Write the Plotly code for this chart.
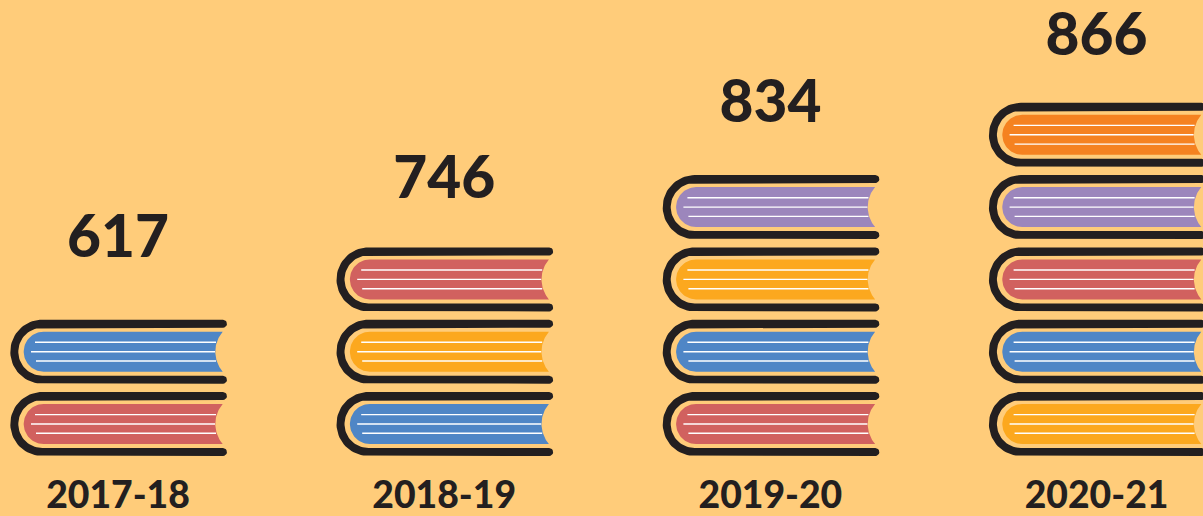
import numpy as np
import plotly.graph_objects as go

years = ["2017-18", "2018-19", "2019-20", "2020-21"]
books_read = [617, 746, 834, 866]
book_stacks = [
    ["red", "blue"],
    ["blue", "yellow", "red"],
    ["red", "blue", "yellow", "purple"],
    ["yellow", "blue", "red", "purple", "orange"],
]

PALETTE = {"red": "#D1615F", "blue": "#4F86C6", "yellow": "#FCA81E",
           "purple": "#9C86BC", "orange": "#F58220"}
BG = "#FFCC7A"
INK = "#231F20"
W, H = 1203, 516
CENTER0, STEP = 118.0, 326.2   # pixel centre of first category, pixels per category
BASE, PITCH = 456.0, 72.3      # pixel baseline of stacks, pixels per book
LABEL_GAP = [77.4, 64.1, 67.8, 62.5]   # px from top of stack to value label centre

def arc(cx, cy, r, a0, a1, n=40):
    t = np.radians(np.linspace(a0, a1, n))
    return cx + r * np.cos(t), cy + r * np.sin(t)

def cover():
    # y downward, origin at book's outer top-left
    parts = [
        arc(212.7, 4, 4, -90, 90, 10),
        arc(32, 32, 24, -90, -270),
        arc(212.7, 60, 4, -90, 90, 10),
        arc(32, 32, 32, 90, 270),
    ]
    return np.concatenate([p[0] for p in parts]), np.concatenate([p[1] for p in parts])

def pages():
    parts = [
        arc(33.4, 32, 20, 90, 270),
        (np.array([212.4]), np.array([12.0])),
    ]
    a = np.degrees(np.arcsin(20 / 30.7))
    parts.append(arc(235.7, 32, 30.7, 180 + a, 180 - a))
    return np.concatenate([p[0] for p in parts]), np.concatenate([p[1] for p in parts])

RULES = [(24.7, 205.7, 22.6), (20.7, 204.7, 32.0), (25.7, 205.7, 41.3)]

def to_data(i, k, gx, gy):
    left = CENTER0 + STEP * i - 107.7
    top = BASE - 64 - PITCH * k
    return (left + gx - CENTER0) / STEP, (BASE - (top + gy)) / PITCH

fig = go.Figure()
cx, cy = cover()
px, py = pages()
for i, stack in enumerate(book_stacks):
    for k, name in enumerate(stack):
        x, y = to_data(i, k, cx, cy)
        fig.add_trace(go.Scatter(x=x, y=y, mode="lines", fill="toself", fillcolor=INK,
                                 line=dict(width=0, color=INK), hoverinfo="skip"))
        x, y = to_data(i, k, px, py)
        fig.add_trace(go.Scatter(x=x, y=y, mode="lines", fill="toself", fillcolor=PALETTE[name],
                                 line=dict(width=0, color=PALETTE[name]), hoverinfo="skip"))
        for x0, x1, gy in RULES:
            x, y = to_data(i, k, np.array([x0, x1]), np.array([gy, gy]))
            fig.add_trace(go.Scatter(x=x, y=y, mode="lines",
                                     line=dict(width=1.4, color="white"), hoverinfo="skip"))

idx = list(range(len(years)))
label_y = [(len(s) * PITCH - 8 + g) / PITCH for s, g in zip(book_stacks, LABEL_GAP)]
fig.add_trace(go.Scatter(x=idx, y=label_y, mode="text", text=[str(v) for v in books_read],
                         textposition="middle center", hoverinfo="skip", cliponaxis=False,
                         textfont=dict(family="Lato", size=58.6, color=INK, weight=900)))
fig.add_trace(go.Scatter(x=idx, y=[(BASE - 499) / PITCH] * 4, mode="text", text=years,
                         textposition="middle center", hoverinfo="skip", cliponaxis=False,
                         textfont=dict(family="Lato", size=37.3, color=INK, weight=900)))

fig.update_layout(
    width=W, height=H, margin=dict(l=0, r=0, t=0, b=0), showlegend=False,
    paper_bgcolor=BG, plot_bgcolor=BG,
    xaxis=dict(range=[-CENTER0 / STEP, (W - CENTER0) / STEP], visible=False, fixedrange=True),
    yaxis=dict(range=[(BASE - H) / PITCH, BASE / PITCH], visible=False, fixedrange=True),
)
fig.write_html(
    "out.html",
    config={"displayModeBar": False},
    post_script="document.body.style.margin='0';document.documentElement.style.overflow='hidden';"
                "document.body.style.background='" + BG + "';",
)
